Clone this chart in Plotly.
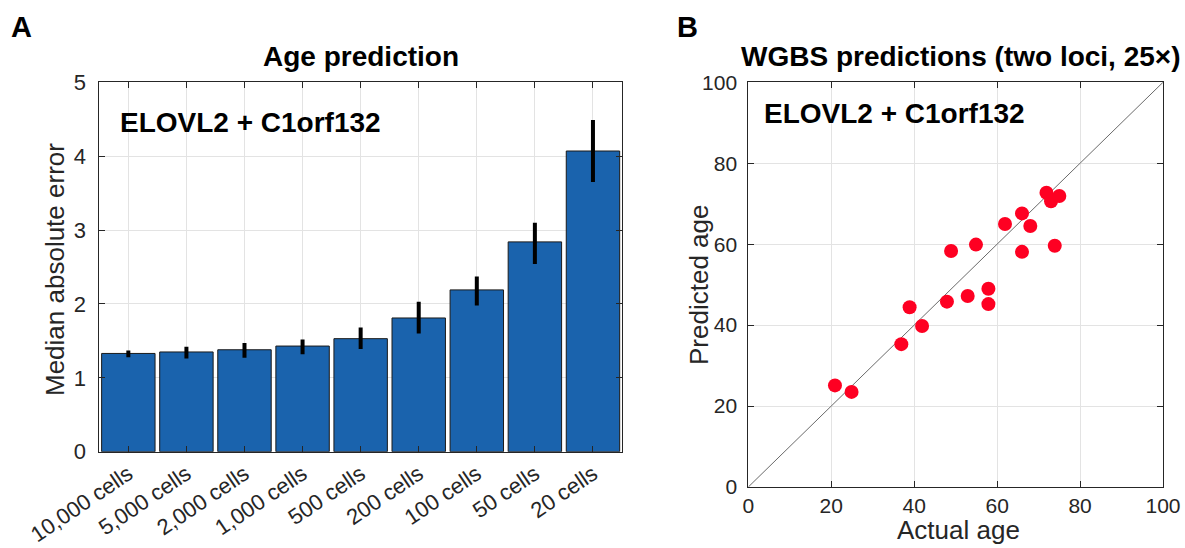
import plotly.graph_objects as go

# ---------------- data ----------------
categories = ["10,000 cells", "5,000 cells", "2,000 cells", "1,000 cells",
              "500 cells", "200 cells", "100 cells", "50 cells", "20 cells"]
mae = [1.33, 1.35, 1.38, 1.43, 1.53, 1.81, 2.19, 2.84, 4.07]
err_upper = [1.37, 1.42, 1.47, 1.52, 1.68, 2.03, 2.37, 3.10, 4.49]
err_lower = [1.28, 1.26, 1.27, 1.32, 1.39, 1.60, 1.98, 2.54, 3.65]

actual_age = [20.9, 24.9, 36.9, 38.9, 41.9, 47.9, 48.9, 52.9, 54.9, 57.9,
              57.9, 61.9, 66.0, 66.0, 68.0, 71.9, 73.0, 75.0, 73.9]
predicted_age = [25.1, 23.5, 35.3, 44.4, 39.8, 45.8, 58.3, 47.2, 59.9, 49.0,
                 45.2, 65.0, 67.6, 58.1, 64.5, 72.7, 70.6, 71.9, 59.6]
identity = [0, 100]

W, H = 1185, 548
FONT = "Liberation Sans, Arial, Helvetica, sans-serif"
AX = "#262626"
GRID = "#e3e3e3"

def px(x):
    return x / W

def py(y):
    return 1 - y / H

fig = go.Figure()

fig.add_trace(go.Bar(
    x=categories, y=mae, width=0.92,
    marker=dict(color="#1a63ad", line=dict(color="#1a1a1a", width=1)),
    error_y=dict(type="data", symmetric=False,
                 array=[u - m for u, m in zip(err_upper, mae)],
                 arrayminus=[m - l for m, l in zip(mae, err_lower)],
                 color="black", thickness=4, width=0),
    xaxis="x", yaxis="y", showlegend=False,
))

fig.add_trace(go.Scatter(
    x=identity, y=identity, mode="lines",
    line=dict(color="#6a6a6a", width=1),
    xaxis="x2", yaxis="y2", showlegend=False,
))
fig.add_trace(go.Scatter(
    x=actual_age, y=predicted_age, mode="markers",
    marker=dict(color="#fe0022", size=14, line=dict(width=0)),
    xaxis="x2", yaxis="y2", showlegend=False,
))

axis_common = dict(showline=True, linecolor=AX, linewidth=1, mirror="allticks",
                   ticks="inside", ticklen=6, tickcolor=AX, showgrid=True,
                   gridcolor=GRID, gridwidth=1, zeroline=False, automargin=False)

tickfont = dict(family=FONT, size=21, color=AX)

fig.update_layout(
    template="none",
    width=W, height=H,
    margin=dict(l=0, r=0, t=0, b=0, autoexpand=False),
    paper_bgcolor="white", plot_bgcolor="white",
    bargap=0.08,
    xaxis=dict(domain=[px(99.3), px(622)], anchor="y", type="category",
               tickangle=-34, range=[-0.5, 8.5],
               tickfont=dict(family=FONT, size=22, color=AX), **axis_common),
    yaxis=dict(domain=[py(451.7), py(82.3)], anchor="x", range=[0, 5],
               tickvals=[0, 1, 2, 3, 4, 5], ticklabelstandoff=8,
               tickfont=dict(family=FONT, size=22, color=AX), **axis_common),
    xaxis2=dict(domain=[px(748.3), px(1163)], anchor="y2", range=[0, 100],
                tickvals=[0, 20, 40, 60, 80, 100], tickfont=tickfont,
                **axis_common),
    yaxis2=dict(domain=[py(487), py(82.3)], anchor="x2", range=[0, 100],
                tickvals=[0, 20, 40, 60, 80, 100], ticklabelstandoff=6,
                tickfont=tickfont, **axis_common),
)

ann = []
def text(x, y, s, size, bold=False, angle=0, xanchor="center"):
    ann.append(dict(x=px(x), y=py(y), xref="paper", yref="paper",
                    text=f"<b>{s}</b>" if bold else s, showarrow=False,
                    textangle=angle, xanchor=xanchor, yanchor="middle",
                    font=dict(family=FONT, size=size, color="black" if bold else AX)))

text(21, 27, "A", 29, bold=True)
text(687, 27, "B", 29, bold=True)
text(360.7, 57, "Age prediction", 28, bold=True)
text(961, 57, "WGBS predictions (two loci, 25×)", 28, bold=True)
text(118, 122, "ELOVL2 + C1orf132", 28, bold=True, xanchor="left")
text(762, 113, "ELOVL2 + C1orf132", 28, bold=True, xanchor="left")
text(55, 270, "Median absolute error", 26, angle=-90)
text(699, 285, "Predicted age", 26, angle=-90)
text(958, 530, "Actual age", 26)

fig.update_layout(annotations=ann)

fig.write_html("out.html")
